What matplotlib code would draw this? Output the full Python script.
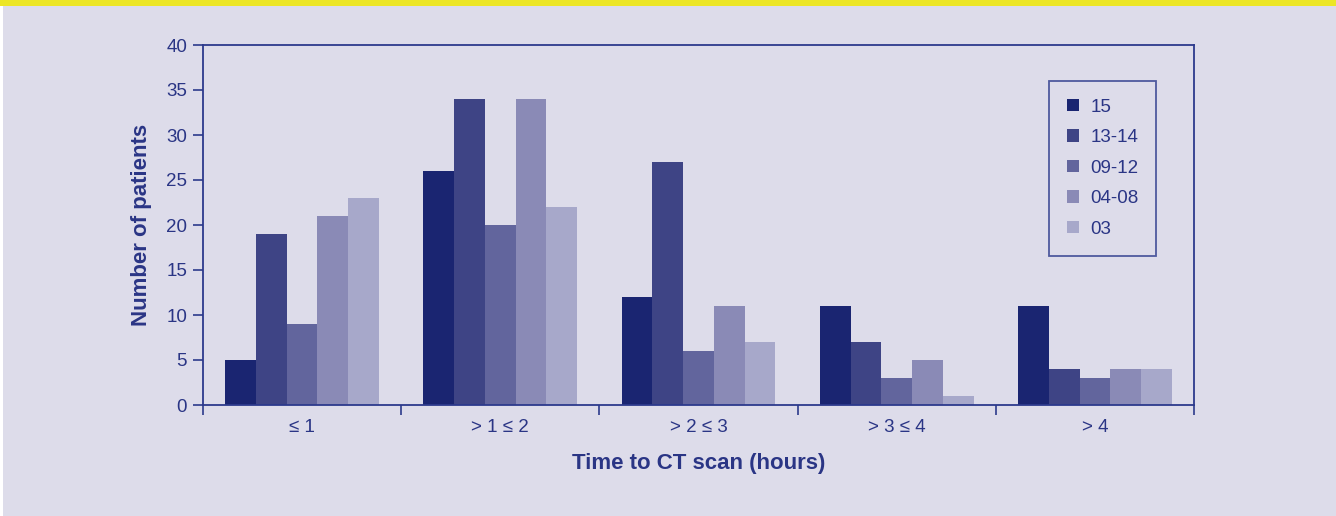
import logging

import matplotlib
matplotlib.use('Agg')
import matplotlib.pyplot as plt
from matplotlib.patches import Rectangle

log = logging.getLogger(__name__)

CATEGORIES = ['\u2264 1', '> 1 \u2264 2', '> 2 \u2264 3', '> 3 \u2264 4', '> 4']
SERIES = ['15', '13-14', '09-12', '04-08', '03']

COUNTS_15 = [5, 26, 12, 11, 11]
COUNTS_13_14 = [19, 34, 27, 7, 4]
COUNTS_09_12 = [9, 20, 6, 3, 3]
COUNTS_04_08 = [21, 34, 11, 5, 4]
COUNTS_03 = [23, 22, 7, 1, 4]

Y_TICKS = [0, 5, 10, 15, 20, 25, 30, 35, 40]

BAR_COLOURS = ['#1a2571', '#3e4485', '#62659d', '#8a8ab6', '#a7a8ca']
NAVY = '#2a3585'
LINE = '#2c3a8c'
BACKGROUND = '#dddcea'
YELLOW = '#ece626'

W, H = 1336, 516


def fx(px):
    return px / W


def fy(py):
    return 1 - py / H


def main():
    plt.rcParams['font.family'] = ['Liberation Sans', 'DejaVu Sans']

    fig = plt.figure(figsize=(W / 100, H / 100), dpi=100)
    fig.patch.set_facecolor('white')

    # page background plus the yellow strip along the top
    fig.patches.append(Rectangle((fx(3), 0), 1, fy(6), transform=fig.transFigure,
                                 facecolor=BACKGROUND, edgecolor='none', zorder=-10))
    fig.patches.append(Rectangle((0, fy(6)), 1, 1 - fy(6), transform=fig.transFigure,
                                 facecolor=YELLOW, edgecolor='none', zorder=-10))

    ax = fig.add_axes([fx(203), fy(405), fx(1194) - fx(203), fy(45) - fy(405)])
    ax.set_facecolor('none')

    all_counts = [COUNTS_15, COUNTS_13_14, COUNTS_09_12, COUNTS_04_08, COUNTS_03]
    bar_w = 0.155
    for j, (name, counts) in enumerate(zip(SERIES, all_counts)):
        xs = [i + 0.5 + (j - 2) * bar_w for i in range(len(CATEGORIES))]
        ax.bar(xs, counts, width=bar_w, color=BAR_COLOURS[j], label=name,
               linewidth=0, zorder=2)

    ax.set_xlim(0, len(CATEGORIES))
    ax.set_ylim(0, 40)
    ax.set_yticks(Y_TICKS)
    ax.set_yticklabels([str(t) for t in Y_TICKS])

    # boundary ticks between groups, labels sit at group centres
    ax.set_xticks(range(len(CATEGORIES) + 1))
    ax.set_xticklabels([])
    ax.set_xticks([i + 0.5 for i in range(len(CATEGORIES))], minor=True)
    ax.set_xticklabels(CATEGORIES, minor=True)

    for side in ['left', 'right', 'top', 'bottom']:
        ax.spines[side].set_color(LINE)
        ax.spines[side].set_linewidth(1.3)

    ax.tick_params(axis='y', direction='out', length=7.5, width=1.2, color=LINE,
                   labelcolor=NAVY, labelsize=13.5, pad=4)
    ax.tick_params(axis='x', which='major', direction='out', length=7.5, width=1.2,
                   color=LINE)
    ax.tick_params(axis='x', which='minor', length=0, labelcolor=NAVY,
                   labelsize=13.5, pad=10)

    ax.set_ylabel('Number of patients', fontsize=16, fontweight='bold',
                  color=NAVY, labelpad=10)
    ax.set_xlabel('Time to CT scan (hours)', fontsize=16, fontweight='bold',
                  color=NAVY, labelpad=12)

    leg = ax.legend(loc='upper left', bbox_to_anchor=(fx(1049), fy(81)),
                    bbox_transform=fig.transFigure, fontsize=13.5,
                    handlelength=0.65, handleheight=0.65, handletextpad=0.6,
                    labelspacing=0.72, borderpad=0.95, borderaxespad=0,
                    fancybox=False, frameon=True)
    leg.get_frame().set_edgecolor(LINE)
    leg.get_frame().set_linewidth(1.3)
    leg.get_frame().set_facecolor('none')
    for text in leg.get_texts():
        text.set_color(NAVY)

    log.info('Saving image')
    fig.savefig('out.png', dpi=100, facecolor=fig.get_facecolor())


if __name__ == '__main__':
    logging.basicConfig(level=logging.INFO)
    main()
